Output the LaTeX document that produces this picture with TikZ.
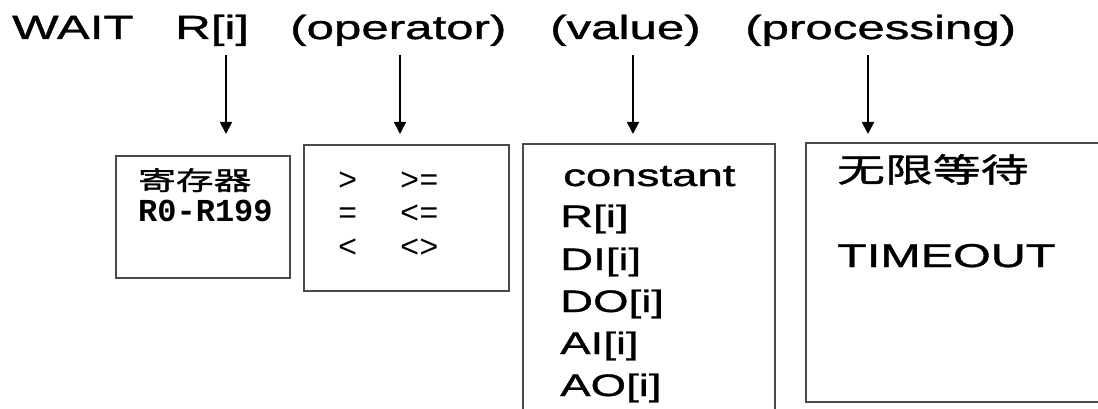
\documentclass[tikz,border=0pt]{standalone}
\usepackage{fontspec}
\setmainfont{Liberation Sans}[FakeStretch=1.47,FakeBold=1.2]
\newfontfamily\cjk{Noto Sans CJK SC}[FakeStretch=1.45,FakeBold=1.2]
\newfontfamily\simmono{Liberation Mono}
\usetikzlibrary{arrows.meta}
\definecolor{boxgray}{HTML}{4A4A4A}
\tikzset{
  lbl/.style={anchor=base west, inner sep=0pt, font=\fontsize{33.5}{40}\selectfont},
  vtxt/.style={anchor=base west, inner sep=0pt, font=\fontsize{31}{37}\selectfont},
  regtxt/.style={anchor=base west, inner sep=0pt, font=\simmono\bfseries\fontsize{32}{38}\selectfont},
  optxt/.style={anchor=base west, inner sep=0pt, font=\simmono\fontsize{32}{38}\selectfont},
  cjktxt/.style={anchor=base west, inner sep=0pt},
  frame/.style={draw=boxgray, line width=2pt, inner sep=0pt},
  arr/.style={line width=1.8pt, -{Triangle[width=12pt,length=12pt]}}
}
\begin{document}
\begin{tikzpicture}[x=1pt,y=-1pt]
\useasboundingbox (0,0) rectangle (1098,409);
\clip (0,0) rectangle (1098,409);
% top labels
\node[lbl] (wait) at (12,39) {WAIT};
\node[lbl] (ri) at (175,39) {R[i]};
\node[lbl] (op) at (290,39) {(operator)};
\node[lbl] (val) at (550,39) {(value)};
\node[lbl] (proc) at (745,39) {(processing)};
% boxes
\node[frame, minimum width=174pt, minimum height=122pt] (b1) at (203,217) {};
\node[frame, minimum width=205pt, minimum height=146pt] (b2) at (406.5,218) {};
\node[frame, minimum width=252pt, minimum height=300pt] (b3) at (649,294) {};
\node[frame, minimum width=320pt, minimum height=259pt] (b4) at (966,272.5) {};
% arrows
\coordinate (a1s) at (226,55); \coordinate (a1e) at (226,134);
\coordinate (a2s) at (400,55); \coordinate (a2e) at (400,134);
\coordinate (a3s) at (633,55); \coordinate (a3e) at (633,134);
\coordinate (a4s) at (868,55); \coordinate (a4e) at (868,134);
\draw[arr] (a1s) -- (a1e);
\draw[arr] (a2s) -- (a2e);
\draw[arr] (a3s) -- (a3e);
\draw[arr] (a4s) -- (a4e);
% box 1
\node[cjktxt, font=\cjk\fontsize{26}{30}\selectfont] (reg) at (138,190) {寄存器};
\node[regtxt] (rng) at (138,222) {R0-R199};
% box 2
\node[optxt] (o1) at (338,190) {>};
\node[optxt] (o2) at (400,190) {>=};
\node[optxt] (o3) at (338,223) {=};
\node[optxt] (o4) at (400,223) {<=};
\node[optxt] (o5) at (338,257) {<};
\node[optxt] (o6) at (400,257) {<>};
% box 3
\node[vtxt] (v1) at (563,186) {constant};
\node[vtxt] (v2) at (560,227) {R[i]};
\node[vtxt] (v3) at (560,270) {DI[i]};
\node[vtxt] (v4) at (560,312) {DO[i]};
\node[vtxt] (v5) at (560,354) {AI[i]};
\node[vtxt] (v6) at (560,396) {AO[i]};
% box 4
\node[cjktxt, font=\cjk\fontsize{33}{38}\selectfont] (wx) at (837,182) {无限等待};
\node[vtxt, font=\fontsize{33}{38}\selectfont] (to) at (837,267) {TIMEOUT};
\end{tikzpicture}
\end{document}
